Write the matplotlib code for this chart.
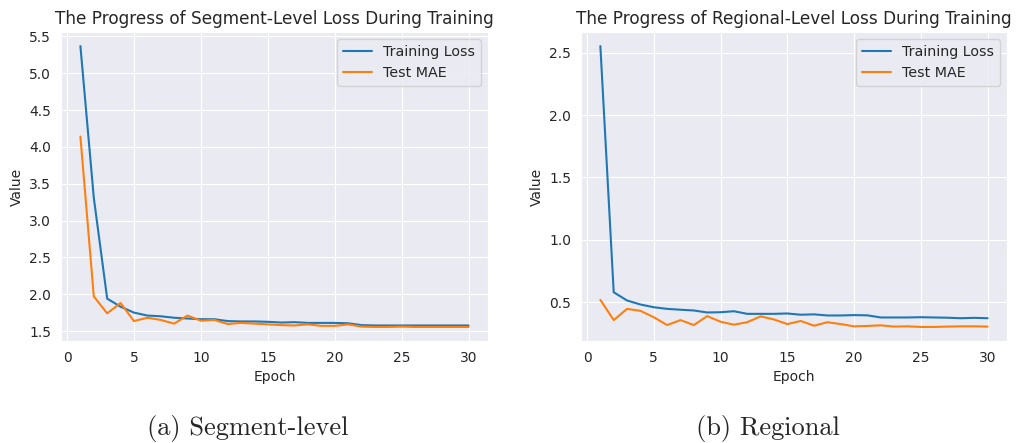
import matplotlib
matplotlib.use("Agg")
import matplotlib.pyplot as plt
import seaborn as sns

epochs = list(range(1, 31))

seg_train = [5.37, 3.31, 1.94, 1.83, 1.75, 1.71, 1.70, 1.68, 1.67, 1.66,
             1.66, 1.635, 1.63, 1.63, 1.625, 1.615, 1.62, 1.61, 1.61, 1.61,
             1.605, 1.58, 1.575, 1.575, 1.575, 1.575, 1.575, 1.575, 1.575, 1.575]
seg_test = [4.14, 1.97, 1.74, 1.88, 1.635, 1.68, 1.65, 1.60, 1.71, 1.64,
            1.65, 1.595, 1.61, 1.60, 1.59, 1.58, 1.575, 1.59, 1.57, 1.57,
            1.59, 1.56, 1.555, 1.555, 1.56, 1.555, 1.555, 1.555, 1.555, 1.555]

reg_train = [2.553, 0.58, 0.514, 0.482, 0.46, 0.447, 0.44, 0.434, 0.418, 0.42,
             0.428, 0.407, 0.407, 0.407, 0.41, 0.40, 0.403, 0.394, 0.394, 0.397,
             0.395, 0.378, 0.378, 0.378, 0.38, 0.378, 0.376, 0.372, 0.375, 0.372]
reg_test = [0.519, 0.357, 0.447, 0.431, 0.38, 0.317, 0.357, 0.317, 0.389, 0.344,
            0.32, 0.34, 0.387, 0.362, 0.325, 0.35, 0.312, 0.34, 0.325, 0.307,
            0.31, 0.315, 0.305, 0.307, 0.302, 0.302, 0.305, 0.307, 0.307, 0.305]

titles = ["The Progress of Segment-Level Loss During Training",
          "The Progress of Regional-Level Loss During Training"]
captions = ["(a) Segment-level", "(b) Regional"]

sns.set_style("darkgrid")
plt.rcParams['font.family'] = ['DejaVu Sans']

fig = plt.figure(figsize=(10.16, 4.43), dpi=100)
ax1 = fig.add_axes([61 / 1016, 1 - 341 / 443, 427 / 1016, 309 / 443])
ax2 = fig.add_axes([581 / 1016, 1 - 341 / 443, 426 / 1016, 309 / 443])

data = [(seg_train, seg_test), (reg_train, reg_test)]
for ax, (train, test), title in zip([ax1, ax2], data, titles):
    ax.plot(epochs, train, label="Training Loss", color="#1f77b4", linewidth=1.5)
    ax.plot(epochs, test, label="Test MAE", color="#ff7f0e", linewidth=1.5)
    ax.set_title(title, fontsize=12.2, pad=6)
    ax.set_xlabel("Epoch", fontsize=10)
    ax.set_ylabel("Value", fontsize=10)
    ax.tick_params(labelsize=10)
    ax.set_xticks([0, 5, 10, 15, 20, 25, 30])
    ax.legend(loc="upper right", fontsize=10.3)

ax1.set_yticks([1.5, 2.0, 2.5, 3.0, 3.5, 4.0, 4.5, 5.0, 5.5])
ax2.set_yticks([0.5, 1.0, 1.5, 2.0, 2.5])

fig.text(248 / 1016, 1 - 429 / 443, captions[0], ha="center", va="center",
         fontsize=19, family="cmr10")
fig.text(768 / 1016, 1 - 429 / 443, captions[1], ha="center", va="center",
         fontsize=19, family="cmr10")

fig.savefig("out.png", dpi=100)
